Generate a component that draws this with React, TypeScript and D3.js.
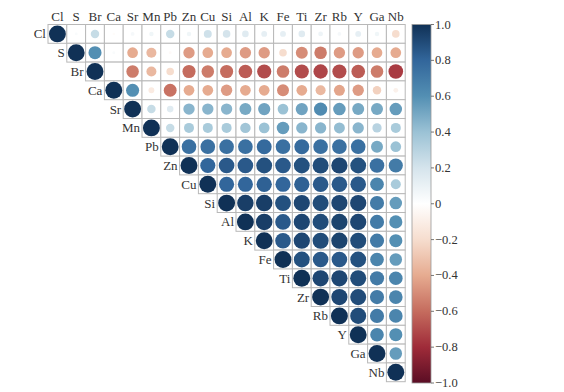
import React from "react";
import * as d3 from "d3";

const vars = ["Cl","S","Br","Ca","Sr","Mn","Pb","Zn","Cu","Si","Al","K","Fe","Ti","Zr","Rb","Y","Ga","Nb"];

// Upper-triangle correlation values, row by row (columns after the diagonal)
const rowCl = [0.03, 0.25, -0.02, 0.05, 0.07, 0.25, 0.07, 0.22, 0.2, 0.15, 0.12, 0.12, 0.15, 0.08, 0.05, 0.12, 0.07, -0.2];
const rowS = [0.6, 0.03, -0.4, -0.35, -0.03, -0.45, -0.4, -0.4, -0.45, -0.45, -0.2, -0.5, -0.55, -0.45, -0.45, -0.4, -0.4];
const rowBr = [0.0, -0.55, -0.35, -0.2, -0.6, -0.55, -0.6, -0.65, -0.7, -0.55, -0.7, -0.72, -0.7, -0.65, -0.55, -0.75];
const rowCa = [0.6, -0.12, -0.58, -0.4, -0.4, -0.45, -0.4, -0.4, -0.5, -0.4, -0.35, -0.42, -0.45, -0.25, -0.08];
const rowSr = [0.25, 0.15, 0.45, 0.45, 0.45, 0.5, 0.52, 0.4, 0.52, 0.62, 0.55, 0.5, 0.5, 0.55];
const rowMn = [0.25, 0.35, 0.35, 0.35, 0.38, 0.4, 0.55, 0.45, 0.45, 0.42, 0.45, 0.3, 0.35];
const rowPb = [0.75, 0.75, 0.75, 0.75, 0.78, 0.75, 0.78, 0.75, 0.75, 0.75, 0.5, 0.4];
const rowZn = [0.8, 0.85, 0.85, 0.88, 0.85, 0.88, 0.9, 0.92, 0.88, 0.75, 0.7];
const rowCu = [0.8, 0.8, 0.82, 0.8, 0.82, 0.85, 0.85, 0.85, 0.65, 0.35];
const rowSi = [0.95, 0.95, 0.88, 0.92, 0.9, 0.92, 0.92, 0.7, 0.55];
const rowAl = [0.95, 0.85, 0.92, 0.9, 0.93, 0.92, 0.7, 0.6];
const rowK = [0.85, 0.92, 0.9, 0.93, 0.9, 0.7, 0.6];
const rowFe = [0.88, 0.85, 0.85, 0.88, 0.65, 0.55];
const rowTi = [0.92, 0.92, 0.9, 0.7, 0.65];
const rowZr = [0.92, 0.9, 0.7, 0.65];
const rowRb = [0.9, 0.7, 0.65];
const rowY = [0.65, 0.6];
const rowGa = [0.55];
const rowNb: number[] = [];

const upperRows = [rowCl, rowS, rowBr, rowCa, rowSr, rowMn, rowPb, rowZn, rowCu, rowSi, rowAl, rowK, rowFe, rowTi, rowZr, rowRb, rowY, rowGa, rowNb];

const legendTicks = [1, 0.8, 0.6, 0.4, 0.2, 0, -0.2, -0.4, -0.6, -0.8, -1];

const basePalette = ["#67001F", "#B2182B", "#D6604D", "#F4A582", "#FDDBC7", "#FFFFFF", "#D1E5F0", "#92C5DE", "#4393C3", "#2166AC", "#053061"];
const palette = basePalette.map((c) => {
  const h = d3.hsl(c);
  h.s = h.s * 0.75;
  return h.formatHex();
});

export default function App() {
  const W = 564, H = 392;
  const x0 = 48, y0 = 24.5, size = 357.2;
  const band = d3.scaleBand<string>().domain(vars).range([0, size]);
  const cell = band.bandwidth();
  const color = d3.scaleLinear<string>()
    .domain(d3.range(palette.length).map(i => -1 + (2 * i) / (palette.length - 1)))
    .range(palette)
    .interpolate(d3.interpolateRgb);

  const cells: { i: number; j: number; v: number }[] = [];
  upperRows.forEach((row, i) => {
    cells.push({ i, j: i, v: 1 });
    row.forEach((v, k) => cells.push({ i, j: i + 1 + k, v }));
  });

  const cbX = 412, cbW = 19, cbTop = 24.5, cbBot = 383;
  const cbScale = d3.scaleLinear().domain([1, -1]).range([cbTop, cbBot]);
  const fmt = (t: number) => t === 0 ? "0" : (t < 0 ? "\u2212" : "") + (Math.abs(t) === 1 ? "1.0" : Math.abs(t).toFixed(1));
  const tStyle = { fontFamily: "\"Liberation Serif\", \"Times New Roman\", \"DejaVu Serif\", serif" };

  return (
    <svg width={W} height={H} style={{ position: "absolute", left: 0, top: 0, background: "#fff" }}>
      <defs>
        <linearGradient id="cb" x1="0" y1="1" x2="0" y2="0">
          {palette.map((c, k) => (
            <stop key={k} offset={`${(k / (palette.length - 1)) * 100}%`} stopColor={c} />
          ))}
        </linearGradient>
      </defs>
      <g transform={`translate(${x0},${y0})`}>
        {cells.map(({ i, j, v }) => {
          const cx = band(vars[j])! + cell / 2;
          const cy = band(vars[i])! + cell / 2;
          return (
            <g key={`${i}-${j}`}>
              <rect x={band(vars[j])} y={band(vars[i])} width={cell} height={cell} fill="#fff" stroke="#b8b8b8" strokeWidth={1} />
              {Math.abs(v) > 0.001 && (
                <circle cx={cx} cy={cy} r={(0.9 * Math.sqrt(Math.abs(v)) * cell) / 2} fill={color(v)} />
              )}
            </g>
          );
        })}
        {vars.map((v) => (
          <text key={"t" + v} x={band(v)! + cell / 2} y={-4} textAnchor="middle" fontSize={13} fill="#333" style={tStyle}>{v}</text>
        ))}
        {vars.map((v) => (
          <text key={"d" + v} x={band(v)! - 2} y={band(v)! + cell / 2 + 4.5} textAnchor="end" fontSize={13} fill="#333" style={tStyle}>{v}</text>
        ))}
      </g>
      <rect x={cbX} y={cbTop} width={cbW} height={cbBot - cbTop} fill="url(#cb)" stroke="#999" strokeWidth={0.8} />
      {legendTicks.map((t) => (
        <g key={"lt" + t}>
          <line x1={cbX + cbW} x2={cbX + cbW + 3} y1={cbScale(t)} y2={cbScale(t)} stroke="#555" strokeWidth={0.8} />
          <text x={cbX + cbW + 4} y={cbScale(t) + 4} fontSize={12.5} fill="#333" style={tStyle}>{fmt(t)}</text>
        </g>
      ))}
    </svg>
  );
}
